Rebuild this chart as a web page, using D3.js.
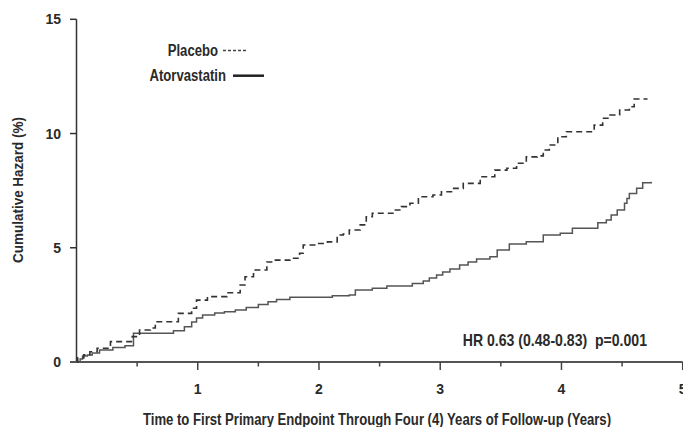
<!DOCTYPE html>
<html>
<head>
<meta charset="utf-8">
<script src="https://cdn.jsdelivr.net/npm/d3@7"></script>
<style>
  body { margin: 0; background: #fff; }
  text { font-family: "Liberation Sans Narrow", "Arial Narrow", "Liberation Sans", Arial, sans-serif; font-weight: bold; fill: #2a2a2a; }
</style>
</head>
<body>
<script>
// cumulative hazard (%)
var placeboYears = [0, 0.01, 0.06, 0.11, 0.17, 0.28, 0.46, 0.52, 0.61, 0.65, 0.84, 0.95, 0.99, 1.08, 1.24, 1.35, 1.39, 1.46, 1.57, 1.62, 1.76, 1.84, 1.87, 1.98, 2.07, 2.15, 2.20, 2.25, 2.34, 2.39, 2.44, 2.61, 2.68, 2.75, 2.82, 2.94, 3.01, 3.10, 3.19, 3.33, 3.45, 3.55, 3.63, 3.71, 3.80, 3.85, 3.90, 3.97, 4.04, 4.27, 4.34, 4.40, 4.48, 4.56, 4.60, 4.71];
var placeboHazard = [0, 0.18, 0.31, 0.45, 0.60, 0.89, 1.11, 1.40, 1.49, 1.76, 2.13, 2.35, 2.71, 2.86, 3.03, 3.37, 3.73, 4.03, 4.38, 4.46, 4.54, 4.76, 5.12, 5.19, 5.26, 5.56, 5.60, 5.78, 6.00, 6.36, 6.51, 6.65, 6.80, 6.95, 7.23, 7.31, 7.45, 7.60, 7.82, 8.11, 8.40, 8.48, 8.70, 8.98, 9.02, 9.28, 9.50, 9.86, 10.08, 10.37, 10.67, 10.81, 11.03, 11.17, 11.51, 11.51];

var atorvaYears = [0, 0.03, 0.05, 0.09, 0.13, 0.19, 0.30, 0.40, 0.47, 0.80, 0.89, 0.95, 0.99, 1.04, 1.14, 1.22, 1.31, 1.40, 1.50, 1.58, 1.65, 1.76, 2.11, 2.25, 2.30, 2.44, 2.56, 2.77, 2.86, 2.91, 2.97, 3.02, 3.08, 3.16, 3.23, 3.30, 3.41, 3.47, 3.57, 3.71, 3.85, 3.99, 4.09, 4.30, 4.37, 4.41, 4.46, 4.52, 4.54, 4.56, 4.62, 4.67, 4.74];
var atorvaHazard = [0, 0.13, 0.26, 0.31, 0.39, 0.53, 0.64, 0.71, 1.26, 1.37, 1.54, 1.75, 1.93, 2.06, 2.14, 2.20, 2.28, 2.39, 2.52, 2.64, 2.74, 2.83, 2.90, 2.93, 3.15, 3.23, 3.33, 3.44, 3.54, 3.68, 3.81, 3.94, 4.07, 4.25, 4.38, 4.51, 4.61, 4.90, 5.16, 5.26, 5.56, 5.63, 5.85, 6.10, 6.21, 6.43, 6.65, 6.95, 7.16, 7.38, 7.60, 7.85, 7.89];

var yTicks = [0, 5, 10, 15];
var xMajor = [1, 2, 3, 4, 5];
var xMinor = [0.5, 1.5, 2.5, 3.5, 4.5];

var W = 683, H = 427;
var svg = d3.select("body").append("svg")
    .attr("width", W)
    .attr("height", H);

var x = d3.scaleLinear().domain([0, 5]).range([76.5, 682.7]);
var y = d3.scaleLinear().domain([0, 15]).range([362, 19.3]);

//condensed-looking text: no narrow font here, so squeeze it sideways
function narrowText(px, py, anchor, size, sx, str) {
    return svg.append("text")
        .attr("transform", "translate(" + px + "," + py + ") scale(" + sx + ",1)")
        .attr("text-anchor", anchor)
        .attr("font-size", size)
        .attr("xml:space", "preserve")
        .text(str);
}

//axes
svg.append("line")
    .attr("x1", x(0)).attr("x2", x(0))
    .attr("y1", y(0)).attr("y2", y(15))
    .attr("stroke", "#333").attr("stroke-width", 1.5);

svg.selectAll(".ytick").data(yTicks).enter().append("line")
    .attr("x1", x(0) - 6.5).attr("x2", x(0))
    .attr("y1", function(d) { return y(d); })
    .attr("y2", function(d) { return y(d); })
    .attr("stroke", "#333").attr("stroke-width", 1.5);

svg.selectAll(".ylab").data(yTicks).enter().append("text")
    .attr("x", 61)
    .attr("y", function(d) { return y(d) + 5; })
    .attr("text-anchor", "end")
    .attr("font-size", 14)
    .text(function(d) { return d; });

svg.append("line")
    .attr("x1", x(0) - 6.5).attr("x2", x(5))
    .attr("y1", y(0)).attr("y2", y(0))
    .attr("stroke", "#555").attr("stroke-width", 2);

svg.selectAll(".xmaj").data(xMajor).enter().append("line")
    .attr("x1", function(d) { return x(d); })
    .attr("x2", function(d) { return x(d); })
    .attr("y1", y(0)).attr("y2", y(0) + 8)
    .attr("stroke", "#444").attr("stroke-width", 1.5);

svg.selectAll(".xmin").data(xMinor).enter().append("line")
    .attr("x1", function(d) { return x(d); })
    .attr("x2", function(d) { return x(d); })
    .attr("y1", y(0)).attr("y2", y(0) + 4.5)
    .attr("stroke", "#444").attr("stroke-width", 1.5);

svg.selectAll(".xlab").data(xMajor).enter().append("text")
    .attr("x", function(d) { return x(d); })
    .attr("y", 394)
    .attr("text-anchor", "middle")
    .attr("font-size", 14)
    .text(function(d) { return d; });

narrowText(377, 425, "middle", 16, 0.82,
    "Time to First Primary Endpoint Through Four (4) Years of Follow-up (Years)");

svg.append("text")
    .attr("transform", "translate(23,190) rotate(-90) scale(0.9,1)")
    .attr("text-anchor", "middle")
    .attr("font-size", 15)
    .text("Cumulative Hazard (%)");

//curves
var line = d3.line()
    .x(function(d) { return x(d[0]); })
    .y(function(d) { return y(d[1]); })
    .curve(d3.curveStepAfter);

svg.append("path")
    .datum(d3.zip(atorvaYears, atorvaHazard))
    .attr("d", line)
    .attr("fill", "none")
    .attr("stroke", "#555")
    .attr("stroke-width", 1.5);

svg.append("path")
    .datum(d3.zip(placeboYears, placeboHazard))
    .attr("d", line)
    .attr("fill", "none")
    .attr("stroke", "#333")
    .attr("stroke-width", 1.6)
    .attr("stroke-dasharray", "6,4");

//legend
narrowText(218, 56, "end", 16, 0.82, "Placebo");
svg.append("line")
    .attr("x1", 223).attr("x2", 248)
    .attr("y1", 50.5).attr("y2", 50.5)
    .attr("stroke", "#444").attr("stroke-width", 1.5)
    .attr("stroke-dasharray", "3,2");

narrowText(226, 81, "end", 16, 0.82, "Atorvastatin");
svg.append("line")
    .attr("x1", 233).attr("x2", 264)
    .attr("y1", 75.7).attr("y2", 75.7)
    .attr("stroke", "#222").attr("stroke-width", 2.5);

narrowText(647, 346, "end", 16, 0.88, "HR 0.63 (0.48-0.83)  p=0.001");
</script>
</body>
</html>
